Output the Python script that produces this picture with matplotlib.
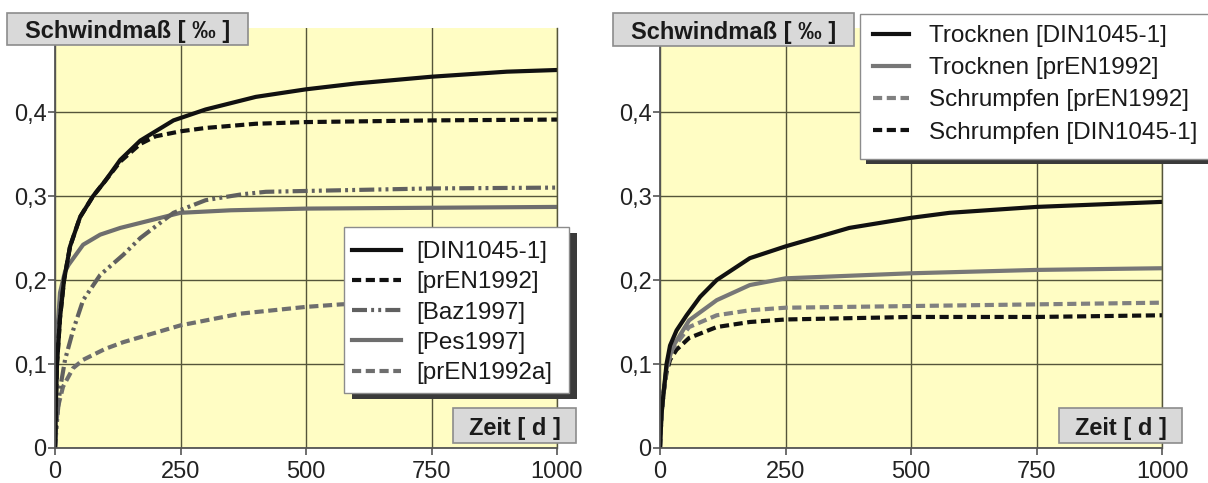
import matplotlib
matplotlib.use("Agg")
import matplotlib.pyplot as plt
from matplotlib.patches import Rectangle

plt.rcParams['font.family'] = ['Liberation Sans', 'DejaVu Sans']

# ---------------- data: shrinkage [per mille] over time [days] ----------------
# left panel: models compared
din_t = [0, 2, 4, 10, 18, 30, 50, 76, 100, 130, 170, 236, 300, 400, 500, 600, 750, 900, 1000]
din_y = [0, 0.06, 0.10, 0.155, 0.20, 0.24, 0.275, 0.30, 0.318, 0.343, 0.366, 0.39, 0.403, 0.418, 0.427, 0.434, 0.442, 0.448, 0.45]

pren_t = [0, 2, 4, 10, 18, 30, 50, 76, 100, 130, 170, 200, 250, 300, 400, 500, 750, 1000]
pren_y = [0, 0.06, 0.10, 0.155, 0.20, 0.24, 0.275, 0.30, 0.318, 0.341, 0.362, 0.371, 0.377, 0.381, 0.386, 0.388, 0.390, 0.391]

baz_t = [0, 5, 10, 20, 36, 56, 90, 136, 170, 236, 300, 372, 420, 500, 750, 1000]
baz_y = [0, 0.04, 0.07, 0.105, 0.14, 0.176, 0.206, 0.23, 0.25, 0.28, 0.295, 0.302, 0.305, 0.306, 0.309, 0.31]

pes_t = [0, 3, 6, 10, 20, 27, 56, 90, 130, 170, 250, 350, 500, 750, 1000]
pes_y = [0, 0.10, 0.15, 0.185, 0.21, 0.218, 0.242, 0.254, 0.262, 0.268, 0.28, 0.283, 0.285, 0.286, 0.287]

prena_t = [0, 2, 6, 16, 36, 56, 100, 136, 250, 370, 500, 570, 750, 1000]
prena_y = [0, 0.025, 0.049, 0.073, 0.095, 0.105, 0.118, 0.126, 0.146, 0.16, 0.168, 0.171, 0.176, 0.18]

# right panel: drying vs. autogenous shrinkage
trdin_t = [0, 3, 7, 13, 20, 33, 53, 80, 113, 179, 250, 377, 500, 577, 750, 1000]
trdin_y = [0, 0.04, 0.065, 0.10, 0.122, 0.14, 0.158, 0.18, 0.20, 0.226, 0.24, 0.262, 0.274, 0.28, 0.287, 0.293]

trpren_t = [0, 3, 7, 13, 25, 58, 113, 179, 250, 500, 750, 1000]
trpren_y = [0, 0.04, 0.065, 0.095, 0.12, 0.152, 0.176, 0.194, 0.202, 0.208, 0.212, 0.214]

schpren_t = [0, 3, 7, 13, 25, 58, 113, 179, 250, 500, 750, 1000]
schpren_y = [0, 0.04, 0.065, 0.095, 0.118, 0.144, 0.158, 0.164, 0.167, 0.169, 0.171, 0.173]

schdin_t = [0, 3, 7, 13, 20, 33, 58, 113, 179, 250, 500, 750, 1000]
schdin_y = [0, 0.04, 0.065, 0.09, 0.105, 0.117, 0.131, 0.144, 0.15, 0.153, 0.156, 0.156, 0.158]

x_ticks = [0, 250, 500, 750, 1000]
y_ticks = [0, 0.1, 0.2, 0.3, 0.4]
y_ticklabels = ['0', '0,1', '0,2', '0,3', '0,4']

left_labels = ['[DIN1045-1]', '[prEN1992]', '[Baz1997]', '[Pes1997]', '[prEN1992a]']
right_labels = ['Trocknen [DIN1045-1]', 'Trocknen [prEN1992]',
                'Schrumpfen [prEN1992]', 'Schrumpfen [DIN1045-1]']
y_title = 'Schwindmaß [ ‰ ]'
x_title = 'Zeit [ d ]'

# ---------------- styling ----------------
W, H = 1208, 483
BLACK = '#111111'
GREY = '#6e6e6e'
YELLOW = '#FFFDC4'
GRIDC = '#55553a'
LW = 3.0
DASH = (0, (2.2, 1.1))
DASHDOT2 = (0, (3.6, 1.0, 0.7, 1.0, 0.7, 1.0))
LEG_FS = 17.5

fig = plt.figure(figsize=(W / 100, H / 100), dpi=100)


def px_rect(x0, y0, x1, y1):
    """Rectangle given in pixel coordinates (origin top-left) -> figure fractions."""
    return (x0 / W, 1 - y1 / H, (x1 - x0) / W, (y1 - y0) / H)


def style_axes(ax):
    ax.set_facecolor(YELLOW)
    ax.set_xlim(0, 1000)
    ax.set_ylim(0, 0.5)
    ax.set_xticks(x_ticks)
    ax.set_yticks(y_ticks)
    ax.set_yticklabels(y_ticklabels)
    ax.tick_params(labelsize=17, direction='out', length=5, width=1.2,
                   color='#555555', labelcolor='#222222')
    ax.tick_params(axis='y', pad=1)
    ax.tick_params(axis='x', pad=4)
    ax.grid(True, color=GRIDC, lw=1.0)
    ax.set_axisbelow(True)
    ax.spines['top'].set_visible(False)
    ax.spines['right'].set_color(GRIDC)
    ax.spines['right'].set_linewidth(1.0)
    for s in ('left', 'bottom'):
        ax.spines[s].set_color('#555555')
        ax.spines[s].set_linewidth(1.3)


def label_box(x0, y0, x1, y1, text, size=17):
    l, b, w, h = px_rect(x0, y0, x1, y1)
    fig.patches.append(Rectangle((l, b), w, h, transform=fig.transFigure,
                                 facecolor='#D9D9D9', edgecolor='#8c8c8c', lw=1.2, zorder=10))
    fig.text(l + w / 2, b + h / 2, text, ha='center', va='center_baseline',
             fontsize=size, fontweight='bold', color='#1a1a1a', zorder=11)


def legend_frame(ax, x0, y0, x1, y1, dx, dy):
    l, b, w, h = px_rect(x0, y0, x1, y1)
    ax.add_patch(Rectangle((l + dx / W, b - dy / H), w, h, transform=fig.transFigure,
                           facecolor='#3a3a3a', edgecolor='none', zorder=4.4, clip_on=False))
    ax.add_patch(Rectangle((l, b), w, h, transform=fig.transFigure,
                           facecolor='white', edgecolor='#8c8c8c', lw=1.0, zorder=4.5, clip_on=False))


# ---------------- left panel ----------------
axL = fig.add_axes(px_rect(55, 28, 557, 448))
style_axes(axL)
axL.plot(prena_t, prena_y, color=GREY, lw=LW, ls=DASH, label=left_labels[4])
axL.plot(pes_t, pes_y, color=GREY, lw=LW, label=left_labels[3])
axL.plot(baz_t, baz_y, color='#606060', lw=LW, ls=DASHDOT2, label=left_labels[2])
axL.plot(pren_t, pren_y, color=BLACK, lw=LW, ls=DASH, label=left_labels[1])
axL.plot(din_t, din_y, color=BLACK, lw=LW, label=left_labels[0])

hL, lL = axL.get_legend_handles_labels()
order = [lL.index(t) for t in left_labels]
legend_frame(axL, 344, 227, 569, 393, 8, 6)
legL = axL.legend([hL[i] for i in order], [lL[i] for i in order],
                  loc='upper left', bbox_to_anchor=(352 / W, 1 - 241 / H),
                  bbox_transform=fig.transFigure, frameon=False, borderaxespad=0,
                  borderpad=0, fontsize=LEG_FS, handlelength=2.0, handletextpad=0.65,
                  labelspacing=0.34, labelcolor='#1a1a1a')
legL.set_zorder(6)

label_box(7, 13, 248, 45, y_title)
label_box(453, 408, 576, 443, x_title)

# ---------------- right panel ----------------
axR = fig.add_axes(px_rect(660, 28, 1162, 448))
style_axes(axR)
axR.plot(schdin_t, schdin_y, color=BLACK, lw=LW, ls=DASH, label=right_labels[3])
axR.plot(schpren_t, schpren_y, color='#808080', lw=LW, ls=DASH, label=right_labels[2])
axR.plot(trpren_t, trpren_y, color='#777777', lw=LW, label=right_labels[1])
axR.plot(trdin_t, trdin_y, color=BLACK, lw=LW, label=right_labels[0])

hR, lR = axR.get_legend_handles_labels()
order = [lR.index(t) for t in right_labels]
legend_frame(axR, 860, 14, 1210, 159, 6, 5)
legR = axR.legend([hR[i] for i in order], [lR[i] for i in order],
                  loc='upper left', bbox_to_anchor=(873 / W, 1 - 25 / H),
                  bbox_transform=fig.transFigure, frameon=False, borderaxespad=0,
                  borderpad=0, fontsize=LEG_FS, handlelength=1.5, handletextpad=0.8,
                  labelspacing=0.42, labelcolor='#1a1a1a')
legR.set_zorder(6)

label_box(613, 13, 854, 46, y_title)
label_box(1059, 408, 1182, 443, x_title)

fig.savefig('out.png', dpi=100, facecolor='white')
